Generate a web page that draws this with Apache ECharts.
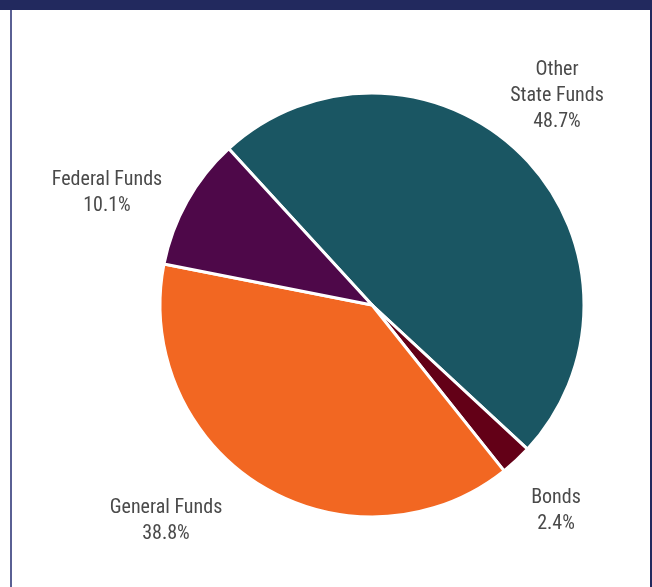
<!DOCTYPE html>
<html>
<head>
<meta charset="utf-8">
<script src="https://cdn.jsdelivr.net/npm/echarts@6/dist/echarts.min.js"></script>
<style>
  html, body { margin: 0; padding: 0; background: #ffffff; }
  #wrap { position: relative; width: 652px; height: 587px; overflow: hidden; }
  #topbar { position: absolute; left: 0; top: 0; width: 652px; height: 10px; background: #22295e; }
  #leftline { position: absolute; left: 10px; top: 10px; width: 2px; height: 577px; background: #5a6094; }
  #rightline { position: absolute; left: 650px; top: 10px; width: 2px; height: 577px; background: #22295e; }
  #chart { position: absolute; left: 0; top: 0; width: 652px; height: 587px; }
</style>
</head>
<body>
<div id="wrap">
  <div id="chart"></div>
  <div id="topbar"></div>
  <div id="leftline"></div>
  <div id="rightline"></div>
</div>
<script>
// Funding sources, clockwise from the upper-left edge
const categories = ['Other\nState Funds', 'Bonds', 'General Funds', 'Federal Funds'];
const shares = [48.7, 2.4, 38.8, 10.1];
const colors = ['#1a5663', '#630017', '#f26722', '#4e0849'];

// Label anchor points (centre of each text block)
const labelSpots = [[557, 96], [556, 511], [166, 521], [107, 193]];

const chart = echarts.init(document.getElementById('chart'), null, { renderer: 'canvas' });

chart.setOption({
  animation: false,
  series: [{
    type: 'pie',
    center: [372, 305],
    radius: 212,
    startAngle: 132.5,
    clockwise: true,
    avoidLabelOverlap: false,
    itemStyle: { borderColor: '#ffffff', borderWidth: 3 },
    label: {
      show: true,
      position: 'outside',
      formatter: p => p.name + '\n' + p.value.toFixed(1) + '%',
      fontFamily: '"Liberation Sans Narrow", "Roboto Condensed", "Liberation Sans", sans-serif',
      fontSize: 20,
      lineHeight: 26,
      color: '#4a4a4a',
      align: 'center'
    },
    labelLine: { show: false },
    labelLayout: p => ({
      x: labelSpots[p.dataIndex][0],
      y: labelSpots[p.dataIndex][1],
      align: 'center',
      verticalAlign: 'middle'
    }),
    data: categories.map((c, i) => ({
      name: c,
      value: shares[i],
      itemStyle: { color: colors[i] }
    }))
  }]
});
</script>
</body>
</html>
